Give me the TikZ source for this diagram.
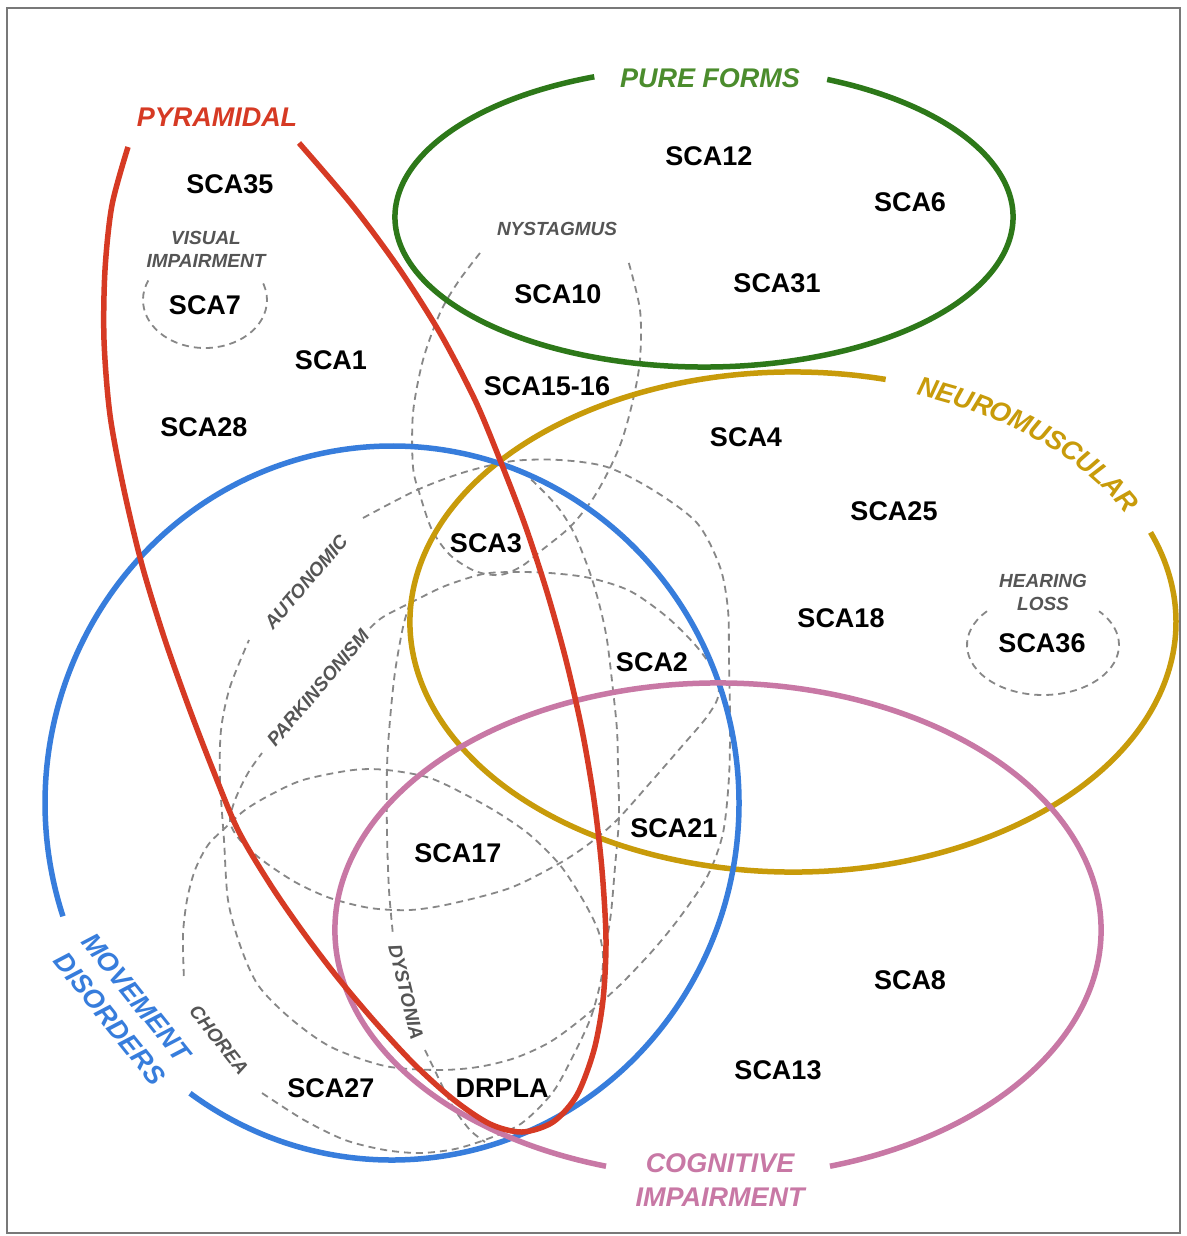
\documentclass[tikz,border=0pt]{standalone}
\usepackage{fontspec}
\setmainfont{Liberation Sans}
\usetikzlibrary{decorations.text}
\definecolor{cred}{RGB}{214,58,36}
\definecolor{cgreen}{RGB}{45,120,25}
\definecolor{cgreent}{RGB}{75,140,45}
\definecolor{cblue}{RGB}{55,125,220}
\definecolor{cgold}{RGB}{200,155,10}
\definecolor{cpink}{RGB}{200,120,165}
\definecolor{cdash}{RGB}{135,135,135}
\definecolor{cgraytext}{RGB}{85,85,85}
\definecolor{cframe}{RGB}{120,120,120}
\begin{document}
\begin{tikzpicture}[x=1pt,y=1pt,
  sca/.style={font=\fontsize{27}{32}\selectfont\bfseries, text=black, inner sep=0pt},
  cat/.style={font=\fontsize{27}{34}\selectfont\bfseries\itshape, inner sep=0pt, align=center},
  feat/.style={font=\fontsize{19}{23}\selectfont\bfseries\itshape, text=cgraytext, inner sep=0pt, align=center},
  dashc/.style={draw=cdash, line width=1.8pt, dash pattern=on 7pt off 5pt},
  main/.style={line width=5.5pt}]
\useasboundingbox (0,0) rectangle (1186,-1236);
\fill[white] (0,0) rectangle (1186,-1236);
\draw[cframe, line width=2pt] (7,-8) rectangle (1180,-1233);

% ---------- dashed feature curves ----------
% visual impairment
\draw[dashc] (205,-300) ++(156:62 and 48) arc[start angle=156, end angle=384, x radius=62, y radius=48];
% hearing loss
\draw[dashc] (1043,-645) ++(137.5:76 and 50) arc[start angle=137.5, end angle=402.5, x radius=76, y radius=50];
% nystagmus
\draw[dashc] plot[smooth] coordinates {(480,-253) (458,-282) (440,-313) (423,-360) (413,-413) (413,-467) (420,-495) (432,-530) (450,-555) (475,-571) (500,-575) (522,-566) (542,-550) (570,-527) (592,-500) (608,-472) (622,-440) (633,-400) (640,-360) (640,-310) (628,-260)};
% autonomic
\draw[dashc] plot[smooth] coordinates {(363,-518) (417,-490) (465,-472) (513,-461) (560,-460) (607,-467) (653,-490) (697,-523) (720,-567) (728,-610) (729,-660) (730,-720) (729,-777) (723,-833) (708,-875) (683,-913) (655,-948) (620,-985) (584,-1017) (550,-1042) (515,-1058) (478,-1067) (438,-1070) (385,-1066) (331,-1047) (290,-1018) (258,-985) (240,-945) (228,-900) (224,-840) (220,-780) (221,-730) (230,-687) (249,-640)};
% parkinsonism
\draw[dashc] plot[smooth] coordinates {(370,-628) (383,-617) (410,-603) (445,-586) (483,-574) (513,-572) (550,-573) (590,-578) (630,-591) (667,-617) (697,-647) (716,-675) (718,-697) (706,-718) (683,-745) (650,-783) (617,-820) (590,-843) (560,-863) (510,-888) (450,-904) (410,-910) (370,-908) (330,-898) (295,-882) (262,-860) (240,-840) (230,-822) (235,-800) (248,-773) (262,-753)};
% chorea
\draw[dashc] plot[smooth] coordinates {(262,-1093) (304,-1120) (345,-1140) (385,-1150) (420,-1153) (455,-1149) (490,-1138) (522,-1123) (553,-1092) (575,-1052) (591,-1017) (601,-980) (603,-955) (598,-930) (583,-900) (560,-865) (530,-835) (500,-814) (470,-797) (430,-778) (387,-770) (353,-770) (303,-780) (270,-795) (245,-810) (225,-828) (208,-845) (195,-870) (187,-900) (183,-935) (184,-980)};
% dystonia
\draw[dashc] plot[smooth] coordinates {(410,-603) (403,-627) (395,-672) (390,-720) (387,-767) (387,-833) (389,-890) (393,-935)};
\draw[dashc] plot[smooth] coordinates {(425,-1050) (437,-1075) (453,-1107) (470,-1130) (485,-1142)};
\draw[dashc] plot[smooth] coordinates {(500,-462) (522,-472) (542,-490) (560,-510) (575,-535) (590,-573) (600,-607) (607,-640) (613,-690) (617,-730) (618,-767) (619,-817) (615,-867) (611,-913) (606,-945)};

% ---------- main category curves ----------
\draw[main, cgreen] (704,-217) ++(110.8:309 and 150) arc[start angle=110.8, end angle=426.5, x radius=309, y radius=150];
\draw[main, cgold] (793,-622) ++(76:383 and 250) arc[start angle=76, end angle=381, x radius=383, y radius=250];
\draw[main, cblue] (392,-803) ++(234.4:347 and 357) arc[start angle=234.4, end angle=558.5, x radius=347, y radius=357];
\draw[main, cpink] (718,-930) ++(287:383 and 247) arc[start angle=287, end angle=613, x radius=383, y radius=247];
\draw[main, cred] plot[smooth] coordinates {(299,-143) (352,-205) (398,-267) (440,-333) (475,-400) (500,-460) (525,-525) (547,-592) (566,-660) (582,-730) (594,-800) (602,-870) (606,-940) (603,-1000) (594,-1050) (577,-1095) (553,-1122) (522,-1132) (490,-1124) (454,-1100) (415,-1065) (376,-1023) (338,-978) (303,-932) (270,-884) (238,-830) (213,-770) (188,-705) (164,-637) (142,-565) (124,-490) (110,-415) (104,-340) (105,-270) (112,-205) (128,-147)};

% ---------- category labels ----------
\node[cat, text=cred] (pyr) at (217,-117) {PYRAMIDAL};
\node[cat, text=cgreent] (pure) at (710,-78) {PURE FORMS};
\node[cat, text=cblue, rotate=-51.3] (mov) at (123,-1008) {MOVEMENT\\DISORDERS};
\node[cat, text=cpink] (cog) at (720,-1180) {COGNITIVE\\IMPAIRMENT};
\path[decorate, decoration={text along path, text={|\fontsize{27}{32}\selectfont\bfseries\itshape\color{cgold}|NEUROMUSCULAR}, text align=center, raise=-9.5pt}] (793,-622) ++(74:383 and 250) arc[start angle=74, end angle=23, x radius=383, y radius=250];

% ---------- feature labels ----------
\node[feat] (vis) at (206,-249.5) {VISUAL\\IMPAIRMENT};
\node[feat] (nys) at (557,-229) {NYSTAGMUS};
\node[feat] (hear) at (1043,-592) {HEARING\\LOSS};
\node[feat, rotate=49.5] (auto) at (306,-582) {AUTONOMIC};
\node[feat, rotate=49.6] (park) at (318,-688) {PARKINSONISM};
\node[feat, rotate=-76.4] (dyst) at (406,-992) {DYSTONIA};
\node[feat, rotate=-51.8] (chor) at (219,-1040) {CHOREA};

% ---------- SCA labels ----------
\node[sca] (sca35) at (230,-184) {SCA35};
\node[sca] (sca7) at (205,-305) {SCA7};
\node[sca] (sca1) at (331,-360) {SCA1};
\node[sca] (sca28) at (204,-427) {SCA28};
\node[sca] (sca12) at (709,-156) {SCA12};
\node[sca] (sca6) at (910,-202) {SCA6};
\node[sca] (sca10) at (558,-294) {SCA10};
\node[sca] (sca31) at (777,-283) {SCA31};
\node[sca] (sca1516) at (547,-386) {SCA15-16};
\node[sca] (sca4) at (746,-437) {SCA4};
\node[sca] (sca25) at (894,-511) {SCA25};
\node[sca] (sca3) at (486,-543) {SCA3};
\node[sca] (sca18) at (841,-618) {SCA18};
\node[sca] (sca36) at (1042,-643) {SCA36};
\node[sca] (sca2) at (652,-662) {SCA2};
\node[sca] (sca21) at (674,-828) {SCA21};
\node[sca] (sca17) at (458,-853) {SCA17};
\node[sca] (sca8) at (910,-980) {SCA8};
\node[sca] (sca13) at (778,-1070) {SCA13};
\node[sca] (sca27) at (331,-1088) {SCA27};
\node[sca] (drpla) at (502,-1088) {DRPLA};
\end{tikzpicture}
\end{document}
